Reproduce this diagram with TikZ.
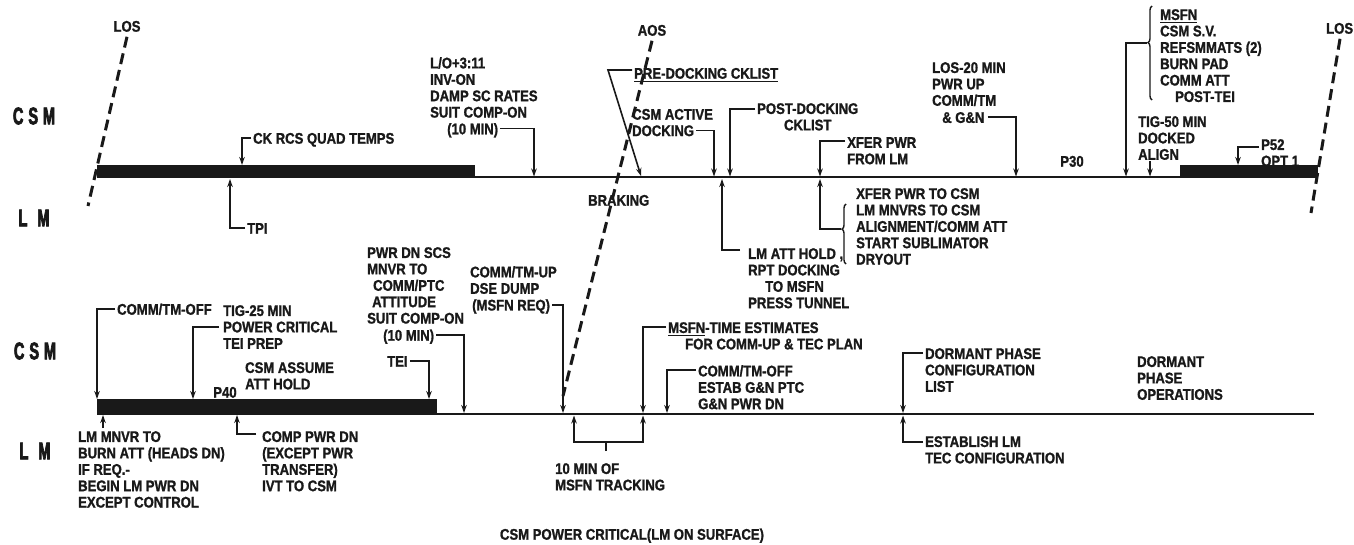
\documentclass[tikz,border=0pt]{standalone}
\usepackage{fontspec}
\usetikzlibrary{arrows.meta,decorations.pathreplacing}
\newfontfamily\labfont{Liberation Sans}[FakeStretch=0.85,FakeBold=1.2]
\newfontfamily\sidefont{Liberation Sans}[FakeStretch=0.6,FakeBold=3]
\newcommand\ulx[1]{\setbox0=\hbox{#1}\rlap{\rule[-3.5pt]{\wd0}{1.5pt}}\box0}
\definecolor{ink}{gray}{0.1}
\begin{document}
\begin{tikzpicture}[x=1pt,y=-1pt,
  lbl/.style={font=\labfont\bfseries\fontsize{15.4}{16.4}\selectfont, inner sep=0pt, anchor=north west, align=left, execute at begin node=\strut, text=ink},
  side/.style={font=\sidefont\bfseries\fontsize{24}{24}\selectfont, inner sep=0pt, anchor=center, text=ink},
  arr/.style={draw=ink, line width=1.6pt, -{Stealth[length=8pt,width=5.5pt]}},
  plain/.style={draw=ink, line width=1.6pt},
  tline/.style={draw=ink, line width=2.4pt},
  barfill/.style={fill=ink},
  dashline/.style={draw=ink, line width=3pt, dash pattern=on 11pt off 6pt},
  bracefx/.style={draw=ink, line width=1.4pt, decorate, decoration={brace, amplitude=4pt}}
]
\fill[white] (0,0) rectangle (1354,544);
\useasboundingbox (0,0) rectangle (1354,544);

% ---------- timelines ----------
\coordinate (tlA) at (97,177);
\coordinate (tlB) at (1318,177);
\coordinate (tlC) at (97,414);
\coordinate (tlD) at (1314,414);
\draw[tline] (tlA) -- (tlB);
\draw[tline] (tlC) -- (tlD);
\fill[barfill] (97,165) rectangle (475,178);
\fill[barfill] (1180,165) rectangle (1318,178);
\fill[barfill] (97,399) rectangle (437,415);

% ---------- side labels ----------
\node[side] (csmA) at (34,116) {C\hspace{5pt}S\hspace{5pt}M};
\node[side] (lmA) at (34,218) {L\hspace{10pt}M};
\node[side] (csmB) at (35,351) {C\hspace{5pt}S\hspace{5pt}M};
\node[side] (lmB) at (35,451) {L\hspace{10pt}M};

% ---------- LOS / AOS ----------
\node[lbl, anchor=north] (losL) at (127,20) {LOS};
\node[lbl, anchor=north] (aos) at (652,24) {AOS};
\node[lbl] (losR) at (1326,22) {LOS};
\coordinate (losLe) at (88,206);
\coordinate (aose) at (563,396);
\coordinate (losRe) at (1311,213);
\draw[dashline] (losL.south) -- (losLe);
\draw[dashline] (aos.south) -- (aose);
\draw[dashline] ([xshift=14]losR.south west) -- (losRe);

% ---------- top timeline targets ----------
\coordinate (a1) at (242,165);
\coordinate (a2) at (230,179);
\coordinate (a3) at (534,176.5);
\coordinate (a4) at (641,176);
\coordinate (a5) at (714,176.5);
\coordinate (a6) at (730,176.5);
\coordinate (a7) at (820,176.5);
\coordinate (a8) at (722,179);
\coordinate (a9) at (820,179);
\coordinate (a10) at (1016,176.5);
\coordinate (a11) at (1126,176.5);
\coordinate (a12) at (1150,176.5);
\coordinate (a13) at (1238,165);

% ---------- top labels ----------
\node[lbl] (ckrcs) at (253,132) {CK RCS QUAD TEMPS};
\node[lbl] (tpi) at (247,222) {TPI};
\node[lbl] (lo311) at (430,57) {L/O+3:11\\INV-ON\\DAMP SC RATES\\SUIT COMP-ON};
\node[lbl] (lo311b) at (447,122.6) {(10 MIN)};
\node[lbl] (predock) at (634,67) {\ulx{PRE-DOCKING CKLIST}};
\node[lbl] (csmact) at (632,108) {CSM ACTIVE};
\node[lbl] (csmactb) at (632,124.4) {DOCKING};
\node[lbl, align=center] (postdock) at (757,103) {POST-DOCKING\\CKLIST};
\node[lbl] (xferfrom) at (847,137) {XFER PWR\\FROM LM};
\node[lbl] (braking) at (588,194) {BRAKING};
\node[lbl] (lmatt) at (748,248) {LM ATT HOLD ,\\RPT DOCKING\\\hspace*{17pt}TO MSFN\\PRESS TUNNEL};
\node[lbl] (xferto) at (856,188) {XFER PWR TO CSM\\LM MNVRS TO CSM\\ALIGNMENT/COMM ATT\\START SUBLIMATOR\\DRYOUT};
\node[lbl] (los20) at (932,62) {LOS-20 MIN\\PWR UP\\COMM/TM};
\node[lbl] (los20b) at (942,111.2) {\& G\&N};
\node[lbl, anchor=north] (p30) at (1072,155) {P30};
\node[lbl] (msfn) at (1160,9) {\ulx{MSFN}\\CSM S.V.\\REFSMMATS (2)\\BURN PAD\\COMM ATT\\\hspace*{15pt}POST-TEI};
\node[lbl] (tig50) at (1138,116) {TIG-50 MIN\\DOCKED\\ALIGN};
\node[lbl] (p52) at (1261,139) {P52\\OPT 1};

% braces
\draw[bracefx, decoration={aspect=0.58}] (846,264) -- (846,204);
\coordinate (bt1) at (841,229);
\draw[bracefx, decoration={aspect=0.61}] (1152,100) -- (1152,6);
\coordinate (bt2) at (1147,43);
\coordinate (pc) at (608,70);
\coordinate (tigs) at (1150,161);

% ---------- top connectors ----------
\draw[arr] ([shift={(-2,6)}]ckrcs.north west) -| (a1);
\draw[arr] ([shift={(-2,6)}]tpi.north west) -| (a2);
\draw[arr] ([shift={(2,6)}]lo311b.north east) -| (a3);
\draw[arr] ([shift={(-2,3)}]predock.north west) -- (pc) -- (a4);
\draw[arr] ([shift={(2,6)}]csmactb.north east) -| (a5);
\draw[arr] ([shift={(-2,6)}]postdock.north west) -| (a6);
\draw[arr] ([shift={(-2,4)}]xferfrom.north west) -| (a7);
\draw[arr] ([shift={(-8,2)}]lmatt.north west) -| (a8);
\draw[arr] (bt1) -| (a9);
\draw[arr] ([shift={(3,6)}]los20b.north east) -| (a10);
\draw[arr] (bt2) -| (a11);
\draw[arr] (tigs) -- (a12);
\draw[arr] ([shift={(-2,8)}]p52.north west) -| (a13);

% ---------- lower timeline targets ----------
\coordinate (b1) at (97,399);
\coordinate (b2) at (193,399);
\coordinate (b3) at (103,415);
\coordinate (b4) at (237,415);
\coordinate (b5) at (464,413);
\coordinate (b6) at (429,399);
\coordinate (b7) at (563,413);
\coordinate (b8) at (574,415.5);
\coordinate (b9) at (643,415.5);
\coordinate (b10) at (643,413);
\coordinate (b11) at (667,413);
\coordinate (b12) at (903,413);
\coordinate (b13) at (903,415.5);
\coordinate (trk) at (606,442);

% ---------- lower labels ----------
\node[lbl] (commoff1) at (117,303) {COMM/TM-OFF};
\node[lbl] (tig25) at (223,305) {TIG-25 MIN\\POWER CRITICAL\\TEI PREP};
\node[lbl] (lmmnvr) at (78,431) {LM MNVR TO\\BURN ATT (HEADS DN)\\IF REQ.-\\BEGIN LM PWR DN\\EXCEPT CONTROL};
\node[lbl] (csmassume) at (245,362) {CSM ASSUME\\ATT HOLD};
\node[lbl, anchor=north] (p40) at (225,386) {P40};
\node[lbl] (comppwr) at (262,431) {COMP PWR DN\\(EXCEPT PWR\\TRANSFER)\\IVT TO CSM};
\node[lbl] (pwrdn) at (367,247) {PWR DN SCS\\MNVR TO\\\hspace*{6pt}COMM/PTC\\\hspace*{5pt}ATTITUDE\\SUIT COMP-ON};
\node[lbl] (pwrdnb) at (383,329) {(10 MIN)};
\node[lbl] (tei) at (387,355) {TEI};
\node[lbl] (commup) at (470,266) {COMM/TM-UP\\DSE DUMP};
\node[lbl] (commupb) at (472,298.8) {(MSFN REQ)};
\node[lbl] (track) at (555,463) {10 MIN OF\\MSFN TRACKING};
\node[lbl] (msfntime) at (668,322) {\ulx{MSFN}-TIME ESTIMATES\\\hspace*{17pt}FOR COMM-UP \& TEC PLAN};
\node[lbl] (commoff2) at (698,365) {COMM/TM-OFF\\ESTAB G\&N PTC\\G\&N PWR DN};
\node[lbl] (dormcfg) at (925,348) {DORMANT PHASE\\CONFIGURATION\\LIST};
\node[lbl] (establish) at (925,436) {ESTABLISH LM\\TEC CONFIGURATION};
\node[lbl] (dormops) at (1137,356) {DORMANT\\PHASE\\OPERATIONS};
\node[lbl, anchor=north] (caption) at (632,528) {CSM POWER CRITICAL(LM ON SURFACE)};

% ---------- lower connectors ----------
\draw[arr] ([shift={(-2,6)}]commoff1.north west) -| (b1);
\draw[arr] ([shift={(-4,22)}]tig25.north west) -| (b2);
\draw[arr] ([shift={(25,-3)}]lmmnvr.north west) -- (b3);
\draw[arr] ([shift={(-6,3)}]comppwr.north west) -| (b4);
\draw[arr] ([shift={(2,6)}]pwrdnb.north east) -| (b5);
\draw[arr] ([shift={(2,6)}]tei.north east) -| (b6);
\draw[arr] ([shift={(2,6)}]commupb.north east) -| (b7);
\draw[plain] ([shift={(51,-12)}]track.north west) -- (trk);
\draw[arr] (trk) -| (b8);
\draw[arr] (trk) -| (b9);
\draw[arr] ([shift={(-2,5)}]msfntime.north west) -| (b10);
\draw[arr] ([shift={(-2,5)}]commoff2.north west) -| (b11);
\draw[arr] ([shift={(-2,5)}]dormcfg.north west) -| (b12);
\draw[arr] ([shift={(-2,6)}]establish.north west) -| (b13);
\end{tikzpicture}
\end{document}
